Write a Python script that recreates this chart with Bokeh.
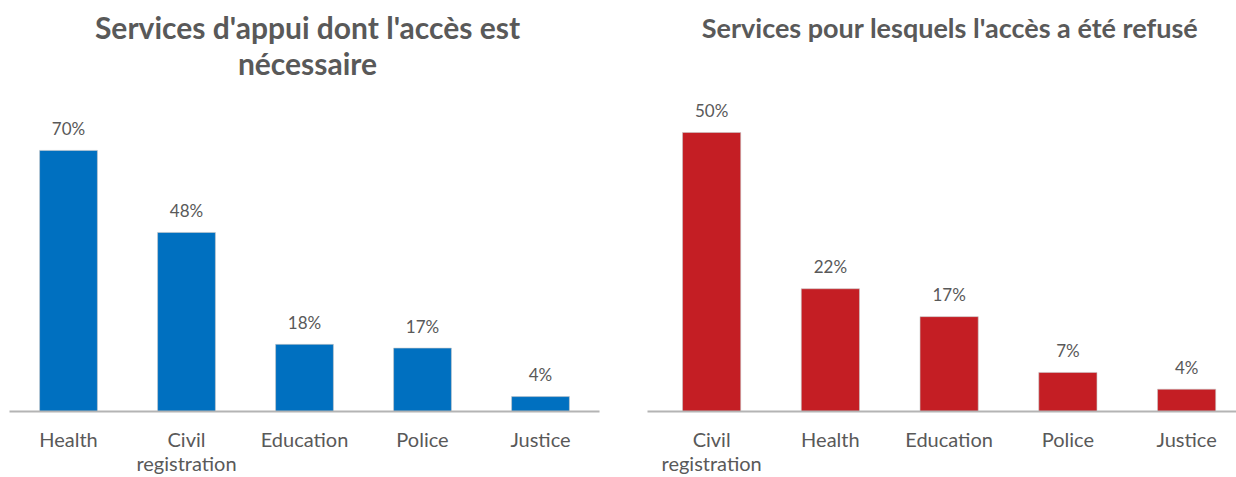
from bokeh.plotting import figure
from bokeh.layouts import row
from bokeh.models import ColumnDataSource, Range1d, FixedTicker, Label, LabelSet
from bokeh.core.properties import value
from bokeh.embed import file_html
from bokeh.resources import INLINE

# Services for which access is needed
needed_services = ["Health", "Civil registration", "Education", "Police", "Justice"]
needed_pct = [70, 48, 18, 17, 4]

# Services for which access was refused
refused_services = ["Civil registration", "Health", "Education", "Police", "Justice"]
refused_pct = [50, 22, 17, 7, 4]

tick_names = {"Civil registration": "Civil\nregistration"}

TEXT = "#595959"
FONT = "Lato"
HEIGHT = 477
BOTTOM = 66


def bar_panel(cats, vals, color, title_lines, title_size, width, border_left, border_right,
              x_start, x_end, px_per_pct, title_y0, title_dx):
    idx = list(range(len(cats)))
    src = ColumnDataSource(dict(
        x=[i + 0.5 for i in idx],
        top=vals,
        label=[f"{v}%" for v in vals],
    ))
    frame_h = HEIGHT - BOTTOM
    p = figure(width=width, height=HEIGHT, output_backend="svg", toolbar_location=None,
               x_range=Range1d(x_start, x_end), y_range=Range1d(0, frame_h / px_per_pct),
               min_border_left=border_left, min_border_right=border_right,
               min_border_top=0, min_border_bottom=BOTTOM)
    p.outline_line_color = None
    p.background_fill_color = "white"
    p.border_fill_color = "white"
    p.grid.visible = False
    p.yaxis.visible = False

    p.vbar(x="x", top="top", width=0.49, bottom=0, source=src,
           fill_color=color, line_color="#c8c8c8", line_width=0.6)

    labels = LabelSet(x="x", y="top", text="label", source=src,
                      text_align="center", text_baseline="middle", y_offset=22,
                      text_font=value(FONT), text_font_size="17px", text_color=TEXT)
    p.add_layout(labels)

    ax = p.xaxis[0]
    ax.ticker = FixedTicker(ticks=[i + 0.5 for i in idx])
    ax.major_label_overrides = {i + 0.5: tick_names.get(c, c) for i, c in zip(idx, cats)}
    ax.major_tick_line_color = None
    ax.minor_tick_line_color = None
    ax.axis_line_color = "#b4b4b4"
    ax.axis_line_width = 2
    ax.major_label_standoff = 9
    ax.major_label_text_font = FONT
    ax.major_label_text_font_size = "20px"
    ax.major_label_text_line_height = 1.0
    ax.major_label_text_color = TEXT

    frame_w = width - border_left - border_right
    for k, line in enumerate(title_lines):
        p.add_layout(Label(x=frame_w / 2 + title_dx, y=frame_h - title_y0 - k * 36,
                           x_units="screen", y_units="screen", text=line,
                           text_align="center", text_baseline="middle",
                           text_font=FONT, text_font_style="bold",
                           text_font_size=title_size, text_color=TEXT))
    return p


left = bar_panel(needed_services, needed_pct, "#0070C0",
                 ["Services d'appui dont l'accès est", "nécessaire"], "30px",
                 width=620, border_left=9, border_right=21, x_start=0, x_end=5,
                 px_per_pct=3.73, title_y0=26, title_dx=3)
right = bar_panel(refused_services, refused_pct, "#C41E24",
                  ["Services pour lesquels l'accès a été refusé"], "27px",
                  width=616, border_left=27, border_right=0, x_start=-0.04, x_end=4.92,
                  px_per_pct=5.58, title_y0=27, title_dx=8)

layout = row(left, right)
open("out.html", "w").write(file_html(layout, INLINE))
